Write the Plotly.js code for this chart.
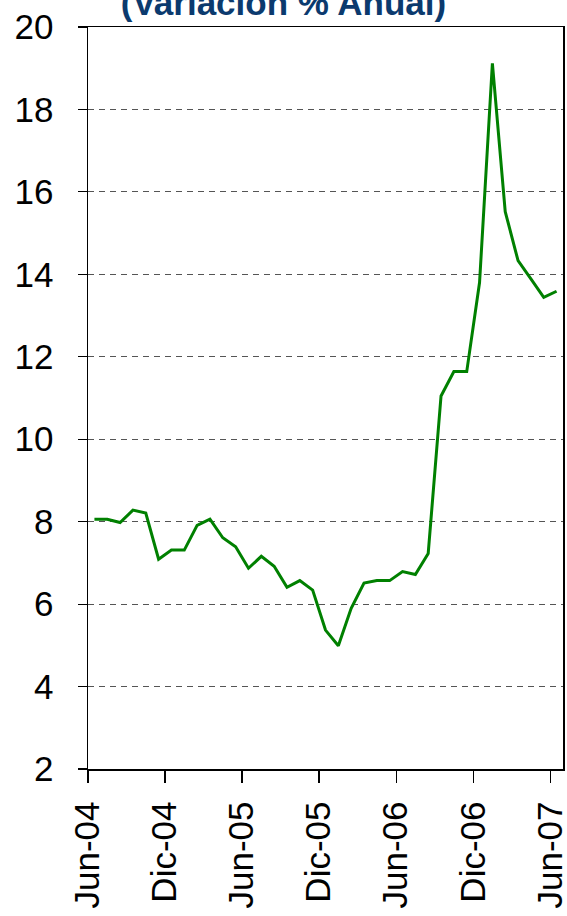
<!DOCTYPE html>
<html>
<head>
<meta charset="utf-8">
<script src="https://cdn.plot.ly/plotly-3.0.1.min.js"></script>
<style>html,body{margin:0;padding:0;background:#fff;}#chart{width:567px;height:916px;}</style>
</head>
<body>
<div id="chart"></div>
<script>
// Monthly series Jun-04 .. Jun-07 (annual % change)
var months = ["Jun-04","Jul-04","Ago-04","Sep-04","Oct-04","Nov-04","Dic-04","Ene-05","Feb-05","Mar-05","Abr-05","May-05",
              "Jun-05","Jul-05","Ago-05","Sep-05","Oct-05","Nov-05","Dic-05","Ene-06","Feb-06","Mar-06","Abr-06","May-06",
              "Jun-06","Jul-06","Ago-06","Sep-06","Oct-06","Nov-06","Dic-06","Ene-07","Feb-07","Mar-07","Abr-07","May-07","Jun-07"];
var values = [8.06, 8.06, 7.98, 8.28, 8.21, 7.09, 7.31, 7.31, 7.91, 8.06, 7.61, 7.39,
              6.87, 7.16, 6.92, 6.41, 6.57, 6.34, 5.37, 4.99, 5.90, 6.51, 6.57, 6.57,
              6.79, 6.72, 7.23, 11.05, 11.64, 11.64, 13.80, 19.12, 15.52, 14.33, 13.89, 13.44, 13.59];
var tickLabels = ["Jun-04","Dic-04","Jun-05","Dic-05","Jun-06","Dic-06","Jun-07"];

var xIdx = months.map(function(m, i){ return i; });
var tickVals = tickLabels.map(function(t){ return months.indexOf(t) - 0.5; });

var trace = {
  x: xIdx, y: values, text: months, type: 'scatter', mode: 'lines',
  line: {color: '#008000', width: 3},
  hoverinfo: 'text+y'
};

var layout = {
  width: 567, height: 916,
  margin: {l: 88, r: 4, t: 27, b: 147},
  paper_bgcolor: '#ffffff', plot_bgcolor: '#ffffff',
  showlegend: false,
  font: {family: '"Liberation Sans", Arial, sans-serif', color: '#000000'},
  title: {
    text: '(Variación % Anual)',
    font: {family: '"Liberation Sans", Arial, sans-serif', size: 35, color: '#0b3a6e', weight: 'bold'},
    x: 0.5, xref: 'container', xanchor: 'center',
    y: 0.9967, yref: 'container', yanchor: 'middle'
  },
  xaxis: {
    range: [-0.5, 36.5],
    tickmode: 'array', tickvals: tickVals, ticktext: tickLabels,
    tickangle: -90,
    tickfont: {size: 35, color: '#000'},
    ticklabeloverflow: 'allow',
    ticklabelstandoff: 5,
    ticks: 'outside', ticklen: 12, tickwidth: 1.2, tickcolor: '#000',
    showline: true, mirror: true, linecolor: '#000', linewidth: 1.5,
    showgrid: false, zeroline: false, fixedrange: true
  },
  yaxis: {
    range: [2, 20], dtick: 2, tick0: 2,
    tickfont: {size: 35, color: '#000'},
    ticks: 'outside', ticklen: 9, tickwidth: 1.2, tickcolor: '#000',
    ticklabelstandoff: 17,
    showline: true, mirror: true, linecolor: '#000', linewidth: 1.5,
    showgrid: true, gridcolor: '#555555', gridwidth: 1, griddash: '6px,5px',
    zeroline: false, fixedrange: true
  }
};

Plotly.newPlot('chart', [trace], layout, {displayModeBar: false, staticPlot: true});
</script>
</body>
</html>
